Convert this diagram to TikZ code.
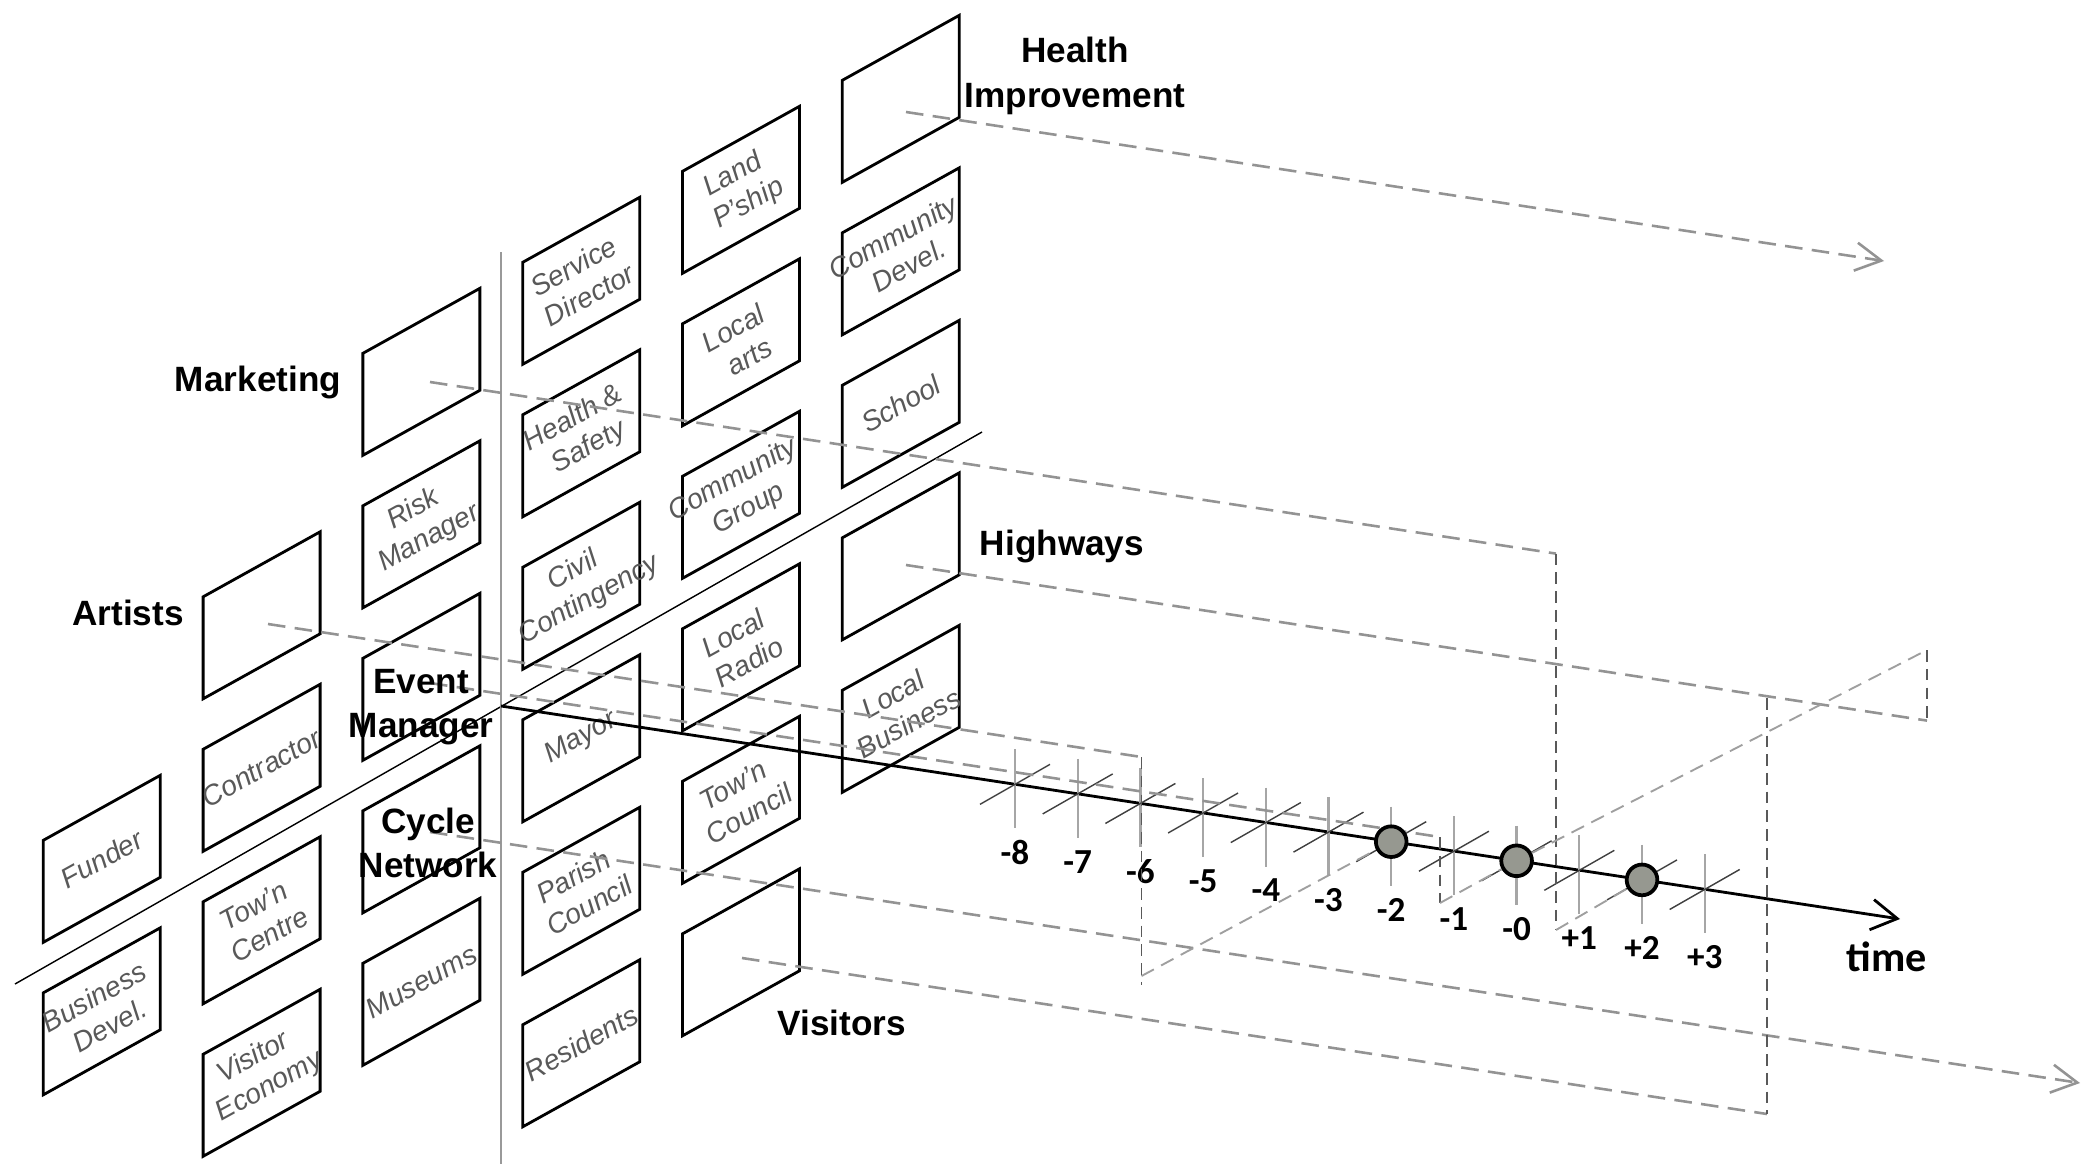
\documentclass[tikz,border=0pt]{standalone}
\usepackage{fontspec}
\setmainfont{Liberation Sans}
\newfontfamily\calfont{Carlito}
\definecolor{eventgray}{RGB}{150,152,144}
\usetikzlibrary{arrows.meta}

\begin{document}
\begin{tikzpicture}[
        x=0.015cm, y=-0.015cm,
        actorbox/.style={draw=black, line width=1.2pt},
        actortext/.style={font=\fontsize{12}{14}\selectfont\itshape, text=black!65, align=center, rotate=29, inner sep=0pt},
        tag/.style={font=\fontsize{15}{19}\selectfont\bfseries, align=center, inner sep=0pt},
        lifeline/.style={draw=gray!85, line width=1.1pt, dash pattern=on 7.5pt off 4pt},
        plane/.style={draw=black!65, line width=0.5pt, dash pattern=on 5pt off 3pt},
        depth/.style={draw=gray!75, line width=0.8pt, dash pattern=on 6pt off 3.5pt},
        barb/.style={-{Straight Barb[length=11pt,width=12pt]}},
        tickmark/.style={draw=gray!70, line width=1pt},
        tickslant/.style={draw=black!75, line width=0.6pt},
        ticklabel/.style={font=\calfont\fontsize{15}{18}\selectfont\bfseries, inner sep=0pt},
        event/.style={circle, draw=black, line width=1.6pt, fill=eventgray, minimum size=0.46cm, inner sep=0pt}
    ]
        \fill[white] (0,0) rectangle (2091,1164);
        \useasboundingbox (0,0) rectangle (2091,1164);

        % Stakeholder boxes
        \foreach \c/\k/\t in {
            1/2/Funder, 1/3/{Business\\Devel.},
            2/1/{}, 2/2/Contractor, 2/3/{Tow'n\\Centre}, 2/4/{Visitor\\Economy},
            3/0/{}, 3/1/{Risk\\Manager}, 3/2/{}, 3/3/{}, 3/4/Museums,
            4/0/{Service\\Director}, 4/1/{Health \&\\Safety}, 4/2/{Civil\\Contingency}, 4/3/Mayor, 4/4/{Parish\\Council}, 4/5/Residents,
            5/0/{Land\\P'ship}, 5/1/{Local\\arts}, 5/2/{Community\\Group}, 5/3/{Local\\Radio}, 5/4/{Tow'n\\Council}, 5/5/{},
            6/0/{}, 6/1/{Community\\Devel.}, 6/2/School, 6/3/{}, 6/4/{Local\\Business}}
        {
            \pgfmathsetmacro\bx{43.3+(\c-1)*159.8}
            \pgfmathsetmacro\by{535.3-(\c-1)*91+\k*152.5}
            \draw[actorbox] (\bx,\by) -- ++(117,-65) -- ++(0,102) -- ++(-117,65) -- cycle;
            \node[actortext] (a\c\k) at (\bx+58.5,\by+18.5) {\t};
        }

        % Axes
        \coordinate (o) at (501,706);
        \coordinate (dlo) at (15,984);
        \coordinate (dhi) at (982,432);
        \coordinate (vtop) at (501,252);
        \coordinate (vbot) at (501,1164);
        \coordinate (tend) at (1900,919);
        \draw[line width=0.6pt] (dlo) -- (dhi);
        \draw[gray!80, line width=0.9pt] (vtop) -- (vbot);
        \draw[line width=1.2pt, -{Straight Barb[length=11pt,width=13pt]}] (o) -- (tend);

        % Time ticks
        \foreach \l [count=\i from 0] in {-8,-7,-6,-5,-4,-3,-2,-1,-0,+1,+2,+3} {
            \pgfmathsetmacro\tx{1015+62.7*\i}
            \pgfmathsetmacro\ty{706+0.1524*(\tx-501)}
            \coordinate (p\i) at (\tx,\ty);
            \draw[tickmark] (\tx,\ty-35) -- (\tx,\ty+44);
            \draw[tickslant] (\tx-35,\ty+20) -- (\tx+35,\ty-20);
            \node[ticklabel] (t\i) at (\tx,\ty+68) {\l};
        }

        % Lifelines
        \coordinate (hi-s) at (906,112);
        \coordinate (hi-e) at (1884,261);
        \coordinate (mk-s) at (430,382);
        \coordinate (mk-e) at (1556,553.6);
        \coordinate (mk-b) at (1556,930);
        \coordinate (hw-s) at (906,565);
        \coordinate (hw-e) at (1927,720.6);
        \coordinate (hw-t) at (1927,650);
        \coordinate (ar-s) at (268,624);
        \coordinate (ar-e) at (1141.5,757);
        \coordinate (ar-b) at (1141.5,985);
        \coordinate (ar-d) at (1141.5,976);
        \coordinate (em-s) at (430,683);
        \coordinate (em-e) at (1440,837);
        \coordinate (em-b) at (1440,903);
        \coordinate (cn-s) at (430,832);
        \coordinate (cn-e) at (2080,1083);
        \coordinate (vi-s) at (742,958);
        \coordinate (vi-e) at (1767,1114);
        \coordinate (vi-t) at (1767,698);

        \draw[lifeline, barb] (hi-s) -- (hi-e);
        \draw[lifeline] (mk-s) -- (mk-e);
        \draw[lifeline] (hw-s) -- (hw-e);
        \draw[lifeline] (ar-s) -- (ar-e);
        \draw[lifeline] (em-s) -- (em-e);
        \draw[lifeline, barb] (cn-s) -- (cn-e);
        \draw[lifeline] (vi-s) -- (vi-e);

        % Planes
        \draw[plane] (mk-e) -- (mk-b);
        \draw[plane] (hw-t) -- (hw-e);
        \draw[plane] (ar-e) -- (ar-b);
        \draw[plane] (em-e) -- (em-b);
        \draw[plane] (vi-t) -- (vi-e);

        % Events
        \node[event] (ev6) at (p6) {};
        \node[event] (ev8) at (p8) {};
        \node[event] (ev10) at (p10) {};
        \draw[depth] (ar-d) -- (ev6);
        \draw[depth] (em-b) -- (ev8);
        \draw[depth] (ev8) -- (hw-t);
        \draw[depth] (mk-b) -- (ev10);

        % Labels
        \node[tag] (hi) at (1075,76) {Health\\Improvement};
        \node[tag] (mk) at (258,382) {Marketing};
        \node[tag] (ar) at (128,613) {Artists};
        \node[tag] (em) at (421,707) {Event\\Manager};
        \node[tag] (cn) at (428,843) {Cycle\\Network};
        \node[tag] (hw) at (1062,546) {Highways};
        \node[tag] (vi) at (842,1023) {Visitors};
        \node[font=\calfont\fontsize{18}{20}\selectfont\bfseries, inner sep=0pt] (tm) at (1887,957) {time};
\end{tikzpicture}
\end{document}
